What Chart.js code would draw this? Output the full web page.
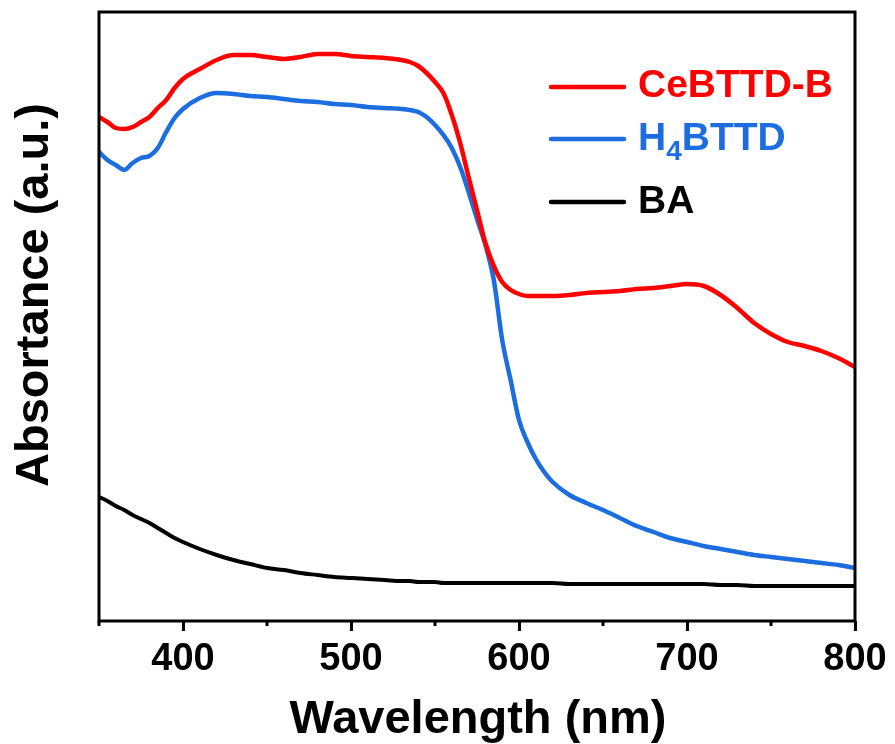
<!DOCTYPE html>
<html>
<head>
<meta charset="utf-8">
<script src="https://cdn.jsdelivr.net/npm/chart.js@4.4.1/dist/chart.umd.min.js"></script>
<style>
  html, body { margin: 0; padding: 0; background: #fff; }
  #chart { display: block; }
</style>
</head>
<body>
<canvas id="chart" width="895" height="744"></canvas>
<script>
// wavelength grid (nm)
const wavelengths = [
  350, 355, 360, 365, 370, 375, 380, 385, 390, 395, 400,
  410, 420, 430, 440, 450, 460, 470, 480, 490, 500, 510, 520, 530,
  535, 540, 545, 550, 555, 560, 565, 570, 575, 580, 585, 590, 595, 600, 605, 610, 615, 620,
  630, 640, 650, 660, 670, 680, 690, 700, 710, 720, 730, 740, 750, 760, 770, 780, 790, 800
];

// absorbance, arbitrary units
const ceBTTD = [
  504, 499, 493, 492, 494, 499, 504, 513, 521, 533, 542,
  552, 561, 566, 566, 564, 562, 564, 567, 567, 565, 564, 563, 561,
  559, 555, 548, 539, 528, 506, 478, 444, 411, 378, 355, 339, 331, 327, 325, 325, 325, 325,
  326, 328, 329, 330, 332, 333, 335, 337, 335, 326, 313, 298, 287, 279, 275, 270, 263, 254
];
const h4BTTD = [
  469, 461, 456, 451, 458, 463, 465, 473, 489, 503, 512,
  523, 528, 527, 525, 524, 522, 520, 519, 517, 516, 514, 513, 512,
  511, 509, 504, 496, 486, 473, 454, 429, 402, 376, 341, 281, 241, 201, 179, 162, 149, 139,
  126, 118, 111, 103, 95, 89, 83, 79, 75, 72, 69, 66, 64, 62, 60, 58, 56, 53
];
const ba = [
  124, 120, 115, 111, 106, 102, 98, 93, 88, 83, 79,
  72, 66, 61, 57, 53, 51, 48, 46, 44, 43, 42, 41, 40,
  40, 39, 39, 39, 38, 38, 38, 38, 38, 38, 38, 38, 38, 38, 38, 38, 38, 38,
  37, 37, 37, 37, 37, 37, 37, 37, 37, 36, 36, 35, 35, 35, 35, 35, 35, 35
];

const seriesLabels = ["CeBTTD-B", "H4BTTD", "BA"];
const seriesColors = ["#ff0000", "#1c6ee0", "#000000"];
const xTicks = [400, 500, 600, 700, 800];

const FONT = "'Liberation Sans', Arial, Helvetica, sans-serif";

function toPoints(values) {
  return values.map((v, i) => ({ x: wavelengths[i], y: v }));
}

// frame, minor ticks, axis titles and the legend
const decorations = {
  id: "decorations",
  afterDraw(chart) {
    const { ctx, chartArea: a } = chart;
    const xs = chart.scales.x;
    ctx.save();

    ctx.strokeStyle = "#000";
    ctx.lineWidth = 3;
    ctx.strokeRect(a.left, a.top, a.right - a.left, a.bottom - a.top);

    // minor ticks
    xs.ticks.forEach(t => {
      if (xTicks.includes(t.value)) return;
      const px = xs.getPixelForValue(t.value);
      ctx.beginPath();
      ctx.moveTo(px, a.bottom);
      ctx.lineTo(px, a.bottom + 5);
      ctx.stroke();
    });

    // axis titles
    ctx.fillStyle = "#000";
    ctx.font = "bold 47px " + FONT;
    ctx.textAlign = "center";
    ctx.textBaseline = "alphabetic";
    ctx.fillText("Wavelength (nm)", 478, 733);

    ctx.save();
    ctx.translate(48, 295);
    ctx.rotate(-Math.PI / 2);
    ctx.fillText("Absortance (a.u.)", 0, 0);
    ctx.restore();

    // legend
    const rows = [87, 139, 202];
    const baselines = [97, 150, 213];
    ctx.textAlign = "left";
    ctx.lineWidth = 4.5;
    ctx.lineCap = "round";
    seriesLabels.forEach((label, i) => {
      ctx.strokeStyle = seriesColors[i];
      ctx.beginPath();
      ctx.moveTo(551, rows[i]);
      ctx.lineTo(624, rows[i]);
      ctx.stroke();

      ctx.fillStyle = seriesColors[i];
      ctx.font = "bold 39px " + FONT;
      if (label === "H4BTTD") {
        let x = 638;
        ctx.fillText("H", x, baselines[i]);
        x += ctx.measureText("H").width;
        ctx.font = "bold 28px " + FONT;
        ctx.fillText("4", x, baselines[i] + 10);
        x += ctx.measureText("4").width;
        ctx.font = "bold 39px " + FONT;
        ctx.fillText("BTTD", x, baselines[i]);
      } else {
        ctx.fillText(label, 638, baselines[i]);
      }
    });

    ctx.restore();
  }
};

new Chart(document.getElementById("chart"), {
  type: "line",
  data: {
    datasets: [
      { label: seriesLabels[0], data: toPoints(ceBTTD), borderColor: seriesColors[0], borderWidth: 4.5 },
      { label: seriesLabels[1], data: toPoints(h4BTTD), borderColor: seriesColors[1], borderWidth: 4.5 },
      { label: seriesLabels[2], data: toPoints(ba), borderColor: seriesColors[2], borderWidth: 4 }
    ]
  },
  options: {
    responsive: false,
    devicePixelRatio: 1,
    animation: false,
    layout: { padding: { left: 99, top: 12, right: 40, bottom: 0 } },
    elements: {
      point: { radius: 0 },
      line: { cubicInterpolationMode: "monotone", fill: false }
    },
    plugins: {
      legend: { display: false },
      tooltip: { enabled: false }
    },
    scales: {
      x: {
        type: "linear",
        min: 350,
        max: 800,
        afterFit(scale) { scale.height = 123; },
        border: { display: false },
        grid: {
          drawOnChartArea: false,
          drawTicks: true,
          tickLength: 10,
          tickWidth: 3,
          tickColor: c => (xTicks.includes(c.tick.value) ? "#000" : "rgba(0,0,0,0)")
        },
        ticks: {
          stepSize: 50,
          autoSkip: false,
          maxRotation: 0,
          padding: 6,
          color: "#000",
          font: { family: FONT, size: 38, weight: "bold" },
          callback: v => (xTicks.includes(v) ? String(v) : "")
        }
      },
      y: {
        display: false,
        min: 0,
        max: 609
      }
    }
  },
  plugins: [decorations]
});
</script>
</body>
</html>
